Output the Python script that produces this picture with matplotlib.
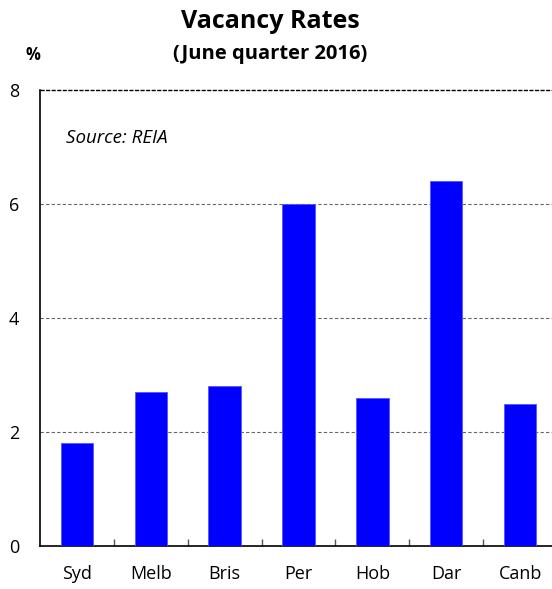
import matplotlib
matplotlib.use("Agg")
import matplotlib.pyplot as plt
import numpy as np

cities = ["Syd", "Melb", "Bris", "Per", "Hob", "Dar", "Canb"]
vacancy = [1.8, 2.7, 2.8, 6.0, 2.6, 6.4, 2.5]
yticks = [0, 2, 4, 6, 8]

plt.rcParams['font.family'] = ['Open Sans', 'DejaVu Sans']

fig = plt.figure(figsize=(5.52, 5.89), dpi=100)
W, H = 552, 589
ax = fig.add_axes([40 / W, 43 / H, 517 / W, 456 / H])

x = np.arange(len(cities))
ax.bar(x, vacancy, width=0.44, color="#0000ff", edgecolor="#5555ff", linewidth=0.6, zorder=3)

ax.set_xlim(-0.5, len(cities) - 0.5)
ax.set_ylim(0, 8)
ax.set_yticks(yticks)
ax.set_yticklabels([str(v) for v in yticks], fontsize=13)
ax.tick_params(axis="y", length=0, pad=15)

ax.set_xticks(x)
ax.set_xticklabels(cities, fontsize=13)
ax.tick_params(axis="x", which="major", length=0, pad=14)
ax.set_xticks(x[:-1] + 0.5, minor=True)
ax.tick_params(axis="x", which="minor", direction="in", length=5, color="#555555", width=1)

for v in yticks[1:-1]:
    ax.axhline(v, color="#666666", linestyle=(0, (3, 2)), linewidth=0.8, zorder=1)
ax.axhline(8, color="black", linestyle=(0, (3, 1)), linewidth=1.0, zorder=1, clip_on=False)

ax.spines["top"].set_visible(False)
ax.spines["right"].set_visible(False)
ax.spines["left"].set_linewidth(1.2)
ax.spines["bottom"].set_linewidth(1.2)

ax.text(0.05, 0.895, "Source: REIA", transform=ax.transAxes, fontsize=13.5,
        style="italic", ha="left", va="center")

fig.text(270 / W, 1 - 21 / H, "Vacancy Rates", fontsize=18, fontweight="bold",
         ha="center", va="center")
fig.text(270 / W, 1 - 54 / H, "(June quarter 2016)", fontsize=14.5, fontweight="bold",
         ha="center", va="center")
fig.text(33 / W, 1 - 55 / H, "%", fontsize=12, fontweight="bold",
         ha="center", va="center")

fig.savefig("out.png", dpi=100)
